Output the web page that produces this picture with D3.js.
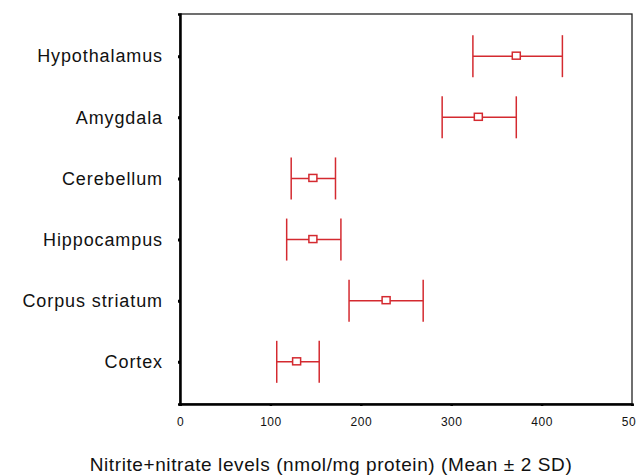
<!DOCTYPE html>
<html>
<head>
<meta charset="utf-8">
<script src="https://cdn.jsdelivr.net/npm/d3@7"></script>
<style>
  body { margin: 0; background: #fff; }
  text { font-family: "Liberation Sans", Arial, sans-serif; fill: #111; }
</style>
</head>
<body>
<div id="chart"></div>
<script>
// regions, top to bottom
const regions = ["Hypothalamus", "Amygdala", "Cerebellum", "Hippocampus", "Corpus striatum", "Cortex"];
const means = [372, 330, 147, 147, 228, 129];
const lows = [324, 290, 123, 118, 187, 107];
const highs = [423, 372, 172, 178, 269, 154];
const xTicks = [0, 100, 200, 300, 400, 500];

const data = regions.map((r, i) => ({ region: r, mean: means[i], lo: lows[i], hi: highs[i] }));

const width = 636, height = 475;
const margin = { top: 14, right: 4, bottom: 71, left: 180 };
const red = "#d42a30";

const svg = d3.select("#chart").append("svg")
    .attr("width", width)
    .attr("height", height)
    .attr("viewBox", [0, 0, width, height]);

const x = d3.scaleLinear([0, 500], [margin.left, width - margin.right]);
const y = d3.scalePoint(regions, [margin.top, height - margin.bottom]).padding(0.69);

// frame: thin top/right, heavy left/bottom
svg.append("rect")
    .attr("x", margin.left).attr("y", margin.top)
    .attr("width", width - margin.right - margin.left)
    .attr("height", height - margin.bottom - margin.top)
    .attr("fill", "none").attr("stroke", "#222").attr("stroke-width", 1.3);

const xAxis = d3.axisBottom(x).tickValues(xTicks).tickSize(2).tickPadding(11);
svg.append("g")
    .attr("transform", `translate(0,${height - margin.bottom})`)
    .call(xAxis)
    .call(g => g.select(".domain").attr("stroke", "#000").attr("stroke-width", 2.5))
    .call(g => g.selectAll(".tick line").attr("stroke", "#000").attr("stroke-width", 2.5))
    .call(g => g.selectAll(".tick text").attr("font-size", 12).attr("letter-spacing", 0.5)
        .style("font-family", "'Liberation Sans', Arial, sans-serif"));

const yAxis = d3.axisLeft(y).tickSize(2).tickPadding(15);
svg.append("g")
    .attr("transform", `translate(${margin.left},0)`)
    .call(yAxis)
    .call(g => g.select(".domain").attr("stroke", "#000").attr("stroke-width", 2.5))
    .call(g => g.selectAll(".tick line").attr("stroke", "#000").attr("stroke-width", 3))
    .call(g => g.selectAll(".tick text").attr("font-size", 18).attr("letter-spacing", 0.9)
        .style("font-family", "'Liberation Sans', Arial, sans-serif"));

// error bars
const bars = svg.append("g")
    .attr("stroke", red)
    .attr("stroke-width", 1.5)
    .attr("fill", "none")
  .selectAll("g")
  .data(data)
  .join("g")
    .attr("transform", d => `translate(0,${y(d.region)})`);

bars.append("line")
    .attr("x1", d => x(d.lo)).attr("x2", d => x(d.hi));
bars.append("line")
    .attr("x1", d => x(d.lo)).attr("x2", d => x(d.lo))
    .attr("y1", -21).attr("y2", 21);
bars.append("line")
    .attr("x1", d => x(d.hi)).attr("x2", d => x(d.hi))
    .attr("y1", -21).attr("y2", 21);
bars.append("rect")
    .attr("x", d => x(d.mean) - 4).attr("y", -4)
    .attr("width", 8).attr("height", 7)
    .attr("fill", "#fff");

svg.append("text")
    .attr("x", 331)
    .attr("y", 471)
    .attr("text-anchor", "middle")
    .attr("font-size", 19)
    .attr("letter-spacing", 0.6)
    .text("Nitrite+nitrate levels (nmol/mg protein) (Mean ± 2 SD)");
</script>
</body>
</html>
